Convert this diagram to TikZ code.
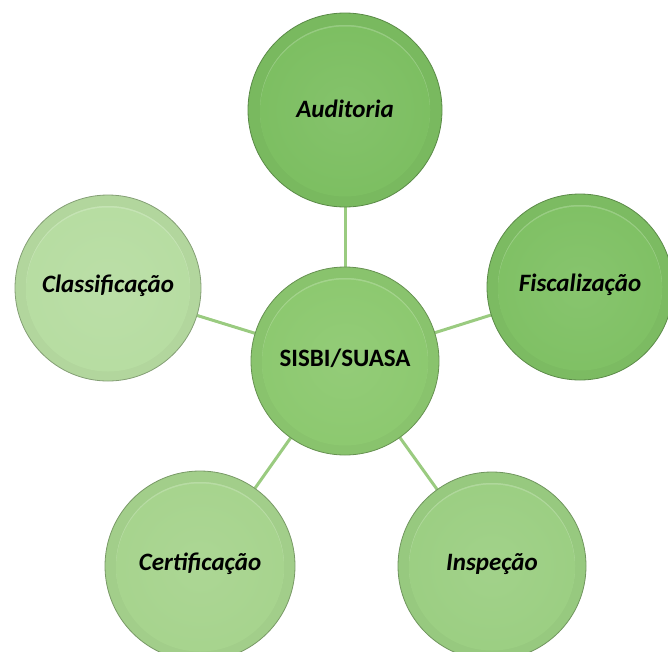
\documentclass[tikz,border=0pt]{standalone}
\usepackage{fontspec}
\setmainfont{Carlito}
\usetikzlibrary{backgrounds}
\definecolor{cAud}{HTML}{7DBF62}
\definecolor{cSis}{HTML}{8DC970}
\definecolor{cFis}{HTML}{80C165}
\definecolor{cIns}{HTML}{9CCF83}
\definecolor{cCer}{HTML}{A7D48E}
\definecolor{cCla}{HTML}{B7DDA2}
\definecolor{cLine}{HTML}{9ACB80}
\tikzset{
  bub/.style n args={3}{circle, inner sep=0pt, minimum size=#1,
    fill=#2!97!black, draw=#2!72!black, line width=0.8pt, text=black,
    font=\bfseries\itshape\fontsize{25}{30}\selectfont,
    path picture={
      \fill[#2!60!white] (path picture bounding box.center) circle (#3);
      \fill[#2] ([yshift=-1.5pt]path picture bounding box.center) circle (#3);
      \shade[inner color=#2!88!white, outer color=#2, opacity=0.5]
        (path picture bounding box.center) circle (#3);
    }},
  conn/.style={draw=cLine, line width=3pt}
}
\begin{document}
\begin{tikzpicture}[x=1pt,y=-1pt]
\useasboundingbox (0,0) rectangle (668,651);
\node[bub={194pt}{cAud}{85pt}] (aud) at (345,110) {\raisebox{2pt}{Auditoria}};
\node[bub={188pt}{cSis}{83pt}, font=\bfseries\fontsize{25}{30}\selectfont] (sis) at (345,361) {\raisebox{7pt}{SISBI/SUASA}};
\node[bub={186pt}{cFis}{82pt}] (fis) at (580,287) {\raisebox{8pt}{Fiscalização}};
\node[bub={188pt}{cIns}{83pt}] (ins) at (492,566) {\raisebox{8pt}{Inspeção}};
\node[bub={190pt}{cCer}{84pt}] (cer) at (200,566) {\raisebox{8pt}{Certificação}};
\node[bub={186pt}{cCla}{82pt}] (cla) at (108,288) {\raisebox{9pt}{Classificação}};
\begin{scope}[on background layer]
\draw[conn] (sis.center) -- (aud.center);
\draw[conn] (sis.center) -- (fis.center);
\draw[conn] (sis.center) -- (ins.center);
\draw[conn] (sis.center) -- (cer.center);
\draw[conn] (sis.center) -- (cla.center);
\end{scope}
\end{tikzpicture}
\end{document}
